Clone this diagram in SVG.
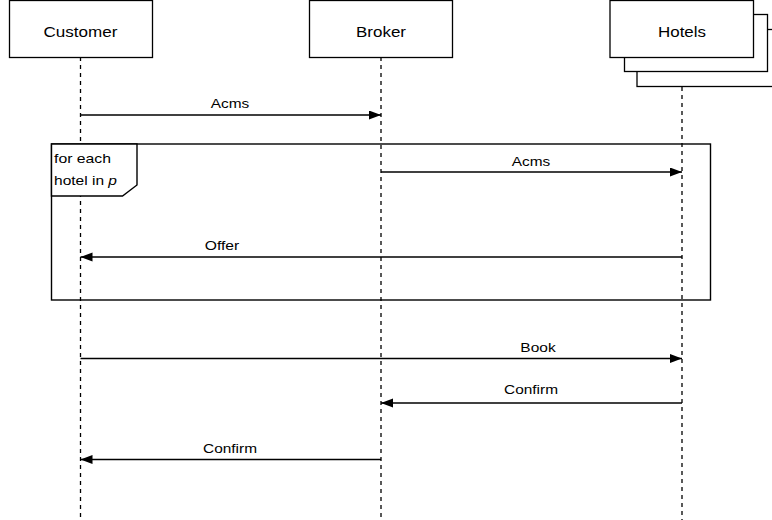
<svg xmlns="http://www.w3.org/2000/svg" width="772" height="520" viewBox="0 0 772 520">
<style>
.box{fill:#fff;stroke:#000;stroke-width:1.3}
.life{stroke:#000;stroke-width:1.3;stroke-dasharray:4 4;fill:none}
.msg{stroke:#000;stroke-width:1.3;fill:none;marker-end:url(#arr)}
.frame{fill:none;stroke:#000;stroke-width:1.4}
.tag{fill:#fff;stroke:#000;stroke-width:1.4}
text{font-family:"Liberation Sans",Arial,Helvetica,sans-serif;fill:#000}
.bl{font-size:15px;text-anchor:middle}
.ml{font-size:13.5px;text-anchor:middle}
.fl{font-size:13.5px}
</style>
<defs>
<marker id="arr" markerUnits="userSpaceOnUse" markerWidth="13" markerHeight="10" refX="12" refY="4.5" orient="auto">
<path d="M0,0 L12,4.5 L0,9 z" fill="#000"/>
</marker>
</defs>
<g id="lifelines">
<line class="life" x1="80.5" y1="57" x2="80.5" y2="520"/>
<line class="life" x1="381" y1="57" x2="381" y2="520"/>
<line class="life" x1="682" y1="87" x2="682" y2="520"/>
</g>
<g id="frame">
<rect class="frame" x="51.5" y="144" width="659" height="156"/>
<path class="tag" d="M51.5,144 H137 V185 L122.5,196 H51.5 Z"/>
<text class="fl" x="54" y="163.3" textLength="57" lengthAdjust="spacingAndGlyphs">for each</text>
<text class="fl" x="54" y="185" textLength="63" lengthAdjust="spacingAndGlyphs">hotel in <tspan font-style="italic">p</tspan></text>
</g>
<g id="customer">
<rect class="box" x="9.5" y="0.5" width="143" height="57"/>
<text class="bl" x="80.5" y="37.3" textLength="74" lengthAdjust="spacingAndGlyphs">Customer</text>
</g>
<g id="broker">
<rect class="box" x="309.5" y="0.5" width="143" height="57"/>
<text class="bl" x="381" y="37.3" textLength="50" lengthAdjust="spacingAndGlyphs">Broker</text>
</g>
<g id="hotels">
<rect class="box" x="637" y="29.5" width="145" height="57"/>
<rect class="box" x="624.5" y="14.5" width="143" height="57"/>
<rect class="box" x="610" y="0.5" width="143.5" height="57"/>
<text class="bl" x="682" y="37.3" textLength="48" lengthAdjust="spacingAndGlyphs">Hotels</text>
</g>
<g id="connectors">
<line class="msg" x1="80.5" y1="115" x2="381" y2="115"/>
<line class="msg" x1="381" y1="172" x2="682" y2="172"/>
<line class="msg" x1="682" y1="257" x2="80.5" y2="257"/>
<line class="msg" x1="80.5" y1="358.5" x2="682" y2="358.5"/>
<line class="msg" x1="682" y1="403" x2="381" y2="403"/>
<line class="msg" x1="381" y1="459.5" x2="80.5" y2="459.5"/>
<text class="ml" x="230" y="108" textLength="38.5" lengthAdjust="spacingAndGlyphs">Acms</text>
<text class="ml" x="531" y="166" textLength="38.5" lengthAdjust="spacingAndGlyphs">Acms</text>
<text class="ml" x="222" y="249.5" textLength="34.5" lengthAdjust="spacingAndGlyphs">Offer</text>
<text class="ml" x="538" y="352.3" textLength="35.3" lengthAdjust="spacingAndGlyphs">Book</text>
<text class="ml" x="531" y="394" textLength="54" lengthAdjust="spacingAndGlyphs">Confirm</text>
<text class="ml" x="230" y="452.5" textLength="54" lengthAdjust="spacingAndGlyphs">Confirm</text>
</g>
</svg>
